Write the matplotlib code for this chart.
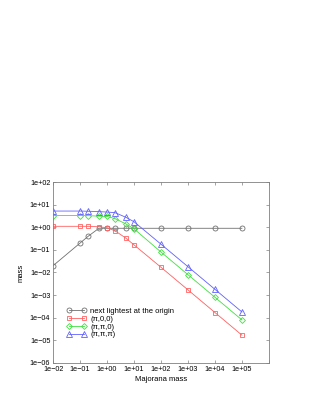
import numpy as np
import matplotlib
matplotlib.use("Agg")
import matplotlib.pyplot as plt
from matplotlib.ticker import FixedLocator, FuncFormatter

# masas de Majorana (eixo x) e as quatro curvas
majorana = [0.01, 0.1, 0.2, 0.5, 1, 2, 5, 10, 1e2, 1e3, 1e4, 1e5]
origem = [0.02, 0.2, 0.4, 0.9, 0.9, 0.9, 0.9, 0.9, 0.9, 0.9, 0.9, 0.9]
pi00 = [1.1, 1.1, 1.1, 1.05, 0.95, 0.69, 0.33, 0.166, 0.017, 0.0017, 1.7e-4, 1.7e-5]
pipi0 = [3.3, 3.3, 3.25, 3.1, 3.0, 2.4, 1.4, 0.85, 0.08, 0.008, 8e-4, 8e-5]
pipipi = [5.2, 5.2, 5.1, 4.9, 4.7, 4.4, 2.75, 1.75, 0.178, 0.018, 1.8e-3, 1.8e-4]

rotulos = ["next lightest at the origin", "(\u03c0,0,0)",
           "(\u03c0,\u03c0,0)", "(\u03c0,\u03c0,\u03c0)"]
cores = ["#707070", "#ff6060", "#40e040", "#6060ff"]
marcas = ["o", "s", "D", "^"]
tamanhos = [3.6, 3.3, 3.0, 3.8]

xticks = [1e-2, 1e-1, 1e0, 1e1, 1e2, 1e3, 1e4, 1e5]
yticks = [1e-6, 1e-5, 1e-4, 1e-3, 1e-2, 1e-1, 1e0, 1e1, 1e2]

plt.rcParams["font.family"] = ["Liberation Sans", "DejaVu Sans"]


def fmt(v, pos):
    if v > 5e5:
        return ""
    return ("%.0e" % v).replace("-", "\u2212")


fig = plt.figure(figsize=(3.16, 4.09), dpi=100)
ax = fig.add_axes([0.168, 0.1125, 0.683, 0.4425])

for ys, lab, c, m, ms in zip([origem, pi00, pipi0, pipipi], rotulos, cores,
                             marcas, tamanhos):
    ax.plot(majorana, ys, "-", color=c, lw=0.6, marker=m, ms=ms,
            mfc="none", mec=c, mew=0.6, label=lab)

ax.set_xscale("log")
ax.set_yscale("log")
ax.set_xlim(1e-2, 1e6)
ax.set_ylim(1e-6, 1e2)
ax.xaxis.set_major_locator(FixedLocator(xticks + [1e6]))
ax.yaxis.set_major_locator(FixedLocator(yticks))
ax.xaxis.set_minor_locator(FixedLocator([]))
ax.yaxis.set_minor_locator(FixedLocator([]))
ax.xaxis.set_major_formatter(FuncFormatter(fmt))
ax.yaxis.set_major_formatter(FuncFormatter(fmt))
ax.tick_params(direction="in", top=True, right=True, length=2.5, width=0.5,
               labelsize=5.2, pad=2, color="#808080")
for sp in ax.spines.values():
    sp.set_linewidth(0.6)
    sp.set_color("#808080")

ax.set_xlabel("Majorana mass", fontsize=5.5, labelpad=2)
ax.set_ylabel("mass", fontsize=5.5, labelpad=4)

ax.legend(loc="upper left", bbox_to_anchor=(0.065, 0.305), frameon=False,
          fontsize=5.5, numpoints=2, handlelength=2.5, handletextpad=0.5,
          labelspacing=0.05, borderpad=0, borderaxespad=0)

fig.savefig("out.png", dpi=100)
